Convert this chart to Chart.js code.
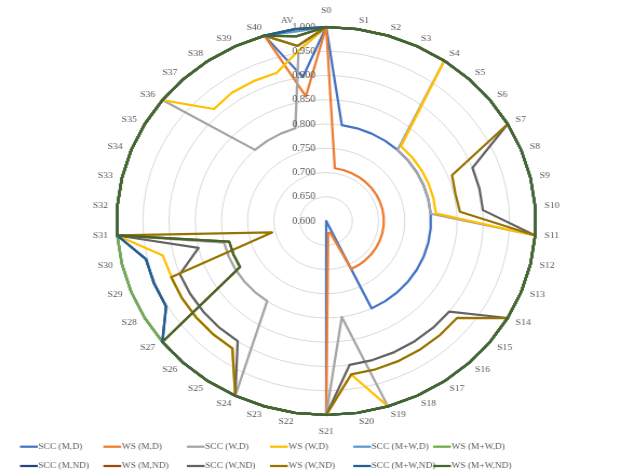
<!DOCTYPE html>
<html>
<head>
<meta charset="utf-8">
<script src="https://cdn.jsdelivr.net/npm/chart.js@4.4.1/dist/chart.umd.min.js"></script>
<style>
html,body{margin:0;padding:0;background:#fff;overflow:hidden;}
#wrap{width:587px;height:472px;transform:scaleX(1.0801);transform-origin:0 0;}
</style>
</head>
<body>
<div id="wrap"><canvas id="c"></canvas></div>
<script>
// Categories (S0..S40, AV)
const categories = ['S0','S1','S2','S3','S4','S5','S6','S7','S8','S9',
  'S10','S11','S12','S13','S14','S15','S16','S17','S18','S19',
  'S20','S21','S22','S23','S24','S25','S26','S27','S28','S29',
  'S30','S31','S32','S33','S34','S35','S36','S37','S38','S39',
  'S40','AV'];

const tickValues = [0.60, 0.65, 0.70, 0.75, 0.80, 0.85, 0.90, 0.95, 1.00];
const tickLabels = ['0.600','0.650','0.700','0.750','0.800','0.850','0.900','0.950','1.000'];

const seriesNames = ['SCC (M,D)','WS (M,D)','SCC (W,D)','WS (W,D)','SCC (M+W,D)','WS (M+W,D)',
  'SCC (M,ND)','WS (M,ND)','SCC (W,ND)','WS (W,ND)','SCC (M+W,ND)','WS (M+W,ND)'];
const seriesColors = ['#4472C4','#ED7D31','#A5A5A5','#FFC000','#5B9BD5','#70AD47',
  '#264478','#9E480E','#636363','#997300','#255E91','#43682B'];

const sccMD = [1.000,0.800,0.800,0.800,0.800,0.800,0.800,0.800,0.800,0.800,
  0.800,0.800,0.800,0.800,0.800,0.800,0.800,0.800,0.800,0.600,
  0.600,1.000,1.000,1.000,1.000,1.000,1.000,1.000,1.000,1.000,
  1.000,1.000,1.000,1.000,1.000,1.000,1.000,1.000,1.000,1.000,
  1.000,0.900];
const wsMD = [1.000,0.710,0.710,0.710,0.710,0.710,0.710,0.710,0.710,0.710,
  0.710,0.710,0.710,0.710,0.710,0.710,0.710,0.710,0.710,0.625,
  0.625,1.000,1.000,1.000,1.000,1.000,1.000,1.000,1.000,1.000,
  1.000,1.000,1.000,1.000,1.000,1.000,1.000,1.000,1.000,1.000,
  1.000,0.860];
const sccWD = [1.000,1.000,1.000,1.000,1.000,0.800,0.800,0.800,0.800,0.800,
  0.800,1.000,1.000,1.000,1.000,1.000,1.000,1.000,1.000,1.000,
  0.800,1.000,1.000,1.000,1.000,0.800,0.800,0.800,0.800,0.800,
  0.800,1.000,1.000,1.000,1.000,1.000,1.000,0.800,0.800,0.800,
  0.800,0.955];
const wsWD = [1.000,1.000,1.000,1.000,1.000,0.810,0.810,0.810,0.810,0.810,
  0.810,1.000,1.000,1.000,1.000,1.000,1.000,1.000,1.000,1.000,
  0.920,1.000,1.000,1.000,1.000,0.918,0.918,0.918,0.918,0.917,
  0.920,1.000,1.000,1.000,1.000,1.000,1.000,0.915,0.920,0.920,
  0.920,0.955];
const sccMWD = [1.000,1.000,1.000,1.000,1.000,1.000,1.000,1.000,1.000,1.000,
  1.000,1.000,1.000,1.000,1.000,1.000,1.000,1.000,1.000,1.000,
  1.000,1.000,1.000,1.000,1.000,1.000,1.000,1.000,1.000,1.000,
  1.000,1.000,1.000,1.000,1.000,1.000,1.000,1.000,1.000,1.000,
  1.000,0.995];
const wsMWD = [1.000,1.000,1.000,1.000,1.000,1.000,1.000,1.000,1.000,1.000,
  1.000,1.000,1.000,1.000,1.000,1.000,1.000,1.000,1.000,1.000,
  1.000,1.000,1.000,1.000,1.000,1.000,1.000,1.000,1.000,1.000,
  1.000,1.000,1.000,1.000,1.000,1.000,1.000,1.000,1.000,1.000,
  1.000,1.000];
const sccMND = [1.000,1.000,1.000,1.000,1.000,1.000,1.000,1.000,1.000,1.000,
  1.000,1.000,1.000,1.000,1.000,1.000,1.000,1.000,1.000,1.000,
  1.000,1.000,1.000,1.000,1.000,1.000,1.000,1.000,0.953,0.953,
  0.953,1.000,1.000,1.000,1.000,1.000,1.000,1.000,1.000,1.000,
  1.000,1.000];
const wsMND = [1.000,1.000,1.000,1.000,1.000,1.000,1.000,1.000,1.000,1.000,
  1.000,1.000,1.000,1.000,1.000,1.000,1.000,1.000,1.000,1.000,
  1.000,1.000,1.000,1.000,1.000,1.000,1.000,1.000,0.790,0.790,
  0.790,1.000,1.000,1.000,1.000,1.000,1.000,1.000,1.000,1.000,
  1.000,0.985];
const sccWND = [1.000,1.000,1.000,1.000,1.000,1.000,1.000,1.000,0.900,0.900,
  0.900,1.000,1.000,1.000,1.000,0.900,0.900,0.900,0.900,0.900,
  0.900,1.000,1.000,1.000,1.000,0.900,0.900,0.900,0.900,0.900,
  0.850,1.000,1.000,1.000,1.000,1.000,1.000,1.000,1.000,1.000,
  1.000,0.965];
const wsWND = [1.000,1.000,1.000,1.000,1.000,1.000,1.000,1.000,0.858,0.853,
  0.856,1.000,1.000,1.000,1.000,0.920,0.920,0.920,0.920,0.920,
  0.920,1.000,1.000,1.000,1.000,0.918,0.918,0.918,0.918,0.918,
  0.706,1.000,1.000,1.000,1.000,1.000,1.000,1.000,1.000,1.000,
  1.000,0.965];
const sccMWND = [1.000,1.000,1.000,1.000,1.000,1.000,1.000,1.000,1.000,1.000,
  1.000,1.000,1.000,1.000,1.000,1.000,1.000,1.000,1.000,1.000,
  1.000,1.000,1.000,1.000,1.000,1.000,1.000,1.000,0.953,0.953,
  0.953,1.000,1.000,1.000,1.000,1.000,1.000,1.000,1.000,1.000,
  1.000,1.000];
const wsMWND = [1.000,1.000,1.000,1.000,1.000,1.000,1.000,1.000,1.000,1.000,
  1.000,1.000,1.000,1.000,1.000,1.000,1.000,1.000,1.000,1.000,
  1.000,1.000,1.000,1.000,1.000,1.000,1.000,1.000,0.790,0.790,
  0.790,1.000,1.000,1.000,1.000,1.000,1.000,1.000,1.000,1.000,
  1.000,0.985];

const seriesData = [sccMD, wsMD, sccWD, wsWD, sccMWD, wsMWD, sccMND, wsMND, sccWND, wsWND, sccMWND, wsMWND];

const TEXT = '#595959';
const SERIF = '"Liberation Serif", "DejaVu Serif", serif';

const overlay = {
  id: 'overlay',
  afterDatasetsDraw(chart) {
    const s = chart.scales.r;
    const ctx = chart.ctx;
    ctx.save();
    ctx.fillStyle = TEXT;
    // radial tick labels
    ctx.font = '9.6px ' + SERIF;
    ctx.textAlign = 'right';
    ctx.textBaseline = 'middle';
    tickValues.forEach((v, i) => {
      ctx.fillText(tickLabels[i], s.xCenter - 10, s.yCenter - s.getDistanceFromCenterForValue(v));
    });
    // point labels
    ctx.font = '9px ' + SERIF;
    categories.forEach((lab, i) => {
      let deg = (s.getIndexAngle(i) * 180 / Math.PI) % 360;
      if (deg < 0) deg += 360;
      let gap = 8.5, align, base;
      if (deg < 0.5 || deg > 359.5) { gap = 12; align = 'center'; base = 'bottom'; }
      else if (Math.abs(deg - 180) < 0.5) { gap = 12; align = 'center'; base = 'top'; }
      else { align = deg < 180 ? 'left' : 'right'; base = 'middle'; }
      const p = s.getPointPosition(i, s.drawingArea + gap);
      ctx.textAlign = align;
      ctx.textBaseline = base;
      ctx.fillText(lab, p.x, p.y);
    });
    ctx.restore();
  },
  afterDraw(chart) {
    const ctx = chart.ctx;
    const colX = [18.5, 95.7, 173, 250, 327, 401];
    const rowY = [446.7, 466];
    ctx.save();
    ctx.font = '8.7px ' + SERIF;
    ctx.textAlign = 'left';
    ctx.textBaseline = 'middle';
    seriesNames.forEach((name, i) => {
      const x = colX[i % 6], y = rowY[Math.floor(i / 6)];
      ctx.strokeStyle = seriesColors[i];
      ctx.lineWidth = 2.25;
      ctx.beginPath();
      ctx.moveTo(x, y);
      ctx.lineTo(x + 16.5, y);
      ctx.stroke();
      ctx.fillStyle = TEXT;
      ctx.fillText(name, x + 17, y);
    });
    ctx.restore();
  }
};

const datasets = seriesNames.map((name, i) => ({
  label: name,
  data: seriesData[i],
  borderColor: seriesColors[i],
  backgroundColor: 'transparent',
  borderWidth: 2.25,
  borderJoinStyle: 'round',
  fill: false,
  pointRadius: 0,
  pointHoverRadius: 0,
  tension: 0,
  order: seriesNames.length - i
}));

new Chart(document.getElementById('c'), {
  type: 'radar',
  data: { labels: categories, datasets },
  options: {
    responsive: true,
    maintainAspectRatio: false,
    animation: false,
    layout: { padding: { left: 108, right: 91, top: 27, bottom: 57 } },
    plugins: { legend: { display: false }, tooltip: { enabled: false } },
    scales: {
      r: {
        min: 0.6,
        max: 1.0,
        ticks: { display: false, stepSize: 0.05 },
        grid: { circular: true, color: '#D9D9D9', lineWidth: 1 },
        angleLines: { display: false },
        pointLabels: { display: false }
      }
    }
  },
  plugins: [overlay]
});
</script>
</body>
</html>
